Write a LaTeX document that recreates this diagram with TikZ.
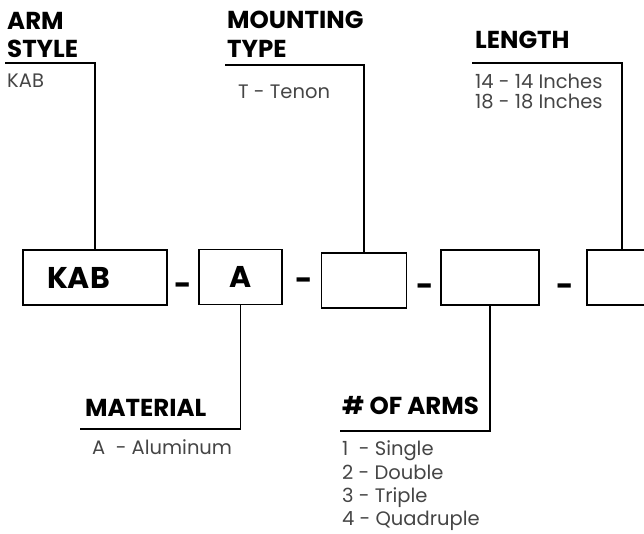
\documentclass[tikz,border=0pt]{standalone}
\usepackage{fontspec}
\setmainfont{Poppins}
\definecolor{txtgray}{HTML}{454545}
\tikzset{
  headtxt/.style={font=\fontsize{24.5}{28}\selectfont\bfseries, anchor=base west, inner sep=0pt},
  graytxt/.style={font=\fontsize{19.5}{20}\selectfont, text=txtgray, anchor=base west, inner sep=0pt},
  pbox/.style={draw, line width=1.5pt, minimum height=55pt, inner sep=0pt, font=\fontsize{30}{30}\selectfont\bfseries},
  sepdash/.style={font=\fontsize{30}{30}\selectfont\bfseries, inner sep=0pt},
  lead/.style={line width=1.5pt}
}

\begin{document}
\begin{tikzpicture}[x=1pt,y=-1pt]
  \useasboundingbox (0,0) rectangle (644,533);
  \clip (0,0) rectangle (644,533);
  % Part number boxes
  \node[pbox, minimum width=144pt, inner xsep=24pt, text width=96pt, align=left] (kab) at (95,277.5) {KAB};
  \node[pbox, minimum width=83pt] (boxa) at (240.5,277) {A};
  \node[pbox, minimum width=85pt] (boxt) at (364,280.5) {};
  \node[pbox, minimum width=98pt] (boxn) at (490,277.5) {};
  \node[pbox, minimum width=70pt] (boxl) at (622,277.5) {};
  % Separators
  \node[sepdash] (d1) at (183.5,289) {-};
  \node[sepdash] (d2) at (304,284) {-};
  \node[sepdash] (d3) at (425,290) {-};
  \node[sepdash] (d4) at (565.5,290) {-};

  % Top labels
  \node[headtxt] (armh1) at (7,29) {ARM};
  \node[headtxt] (armh2) at (7,57) {STYLE};
  \node[graytxt] (armv) at (7,87) {KAB};
  \coordinate (armend) at (5,63);
  \draw[lead] (armend) -| (kab.north);

  \node[headtxt] (mnth1) at (227,28) {MOUNTING};
  \node[headtxt] (mnth2) at (227,57) {TYPE};
  \node[graytxt] (mntv) at (238,98) {T - Tenon};
  \coordinate (mntend) at (225,65);
  \draw[lead] (mntend) -| (boxt.north);

  \node[headtxt] (lenh) at (475,48) {LENGTH};
  \node[graytxt] (lenv1) at (475,88) {14 - 14 Inches};
  \node[graytxt] (lenv2) at (475,108) {18 - 18 Inches};
  \coordinate (lenend) at (472,63);
  \draw[lead] (lenend) -| (boxl.north);

  % Bottom labels
  \node[headtxt] (math) at (85,416) {MATERIAL};
  \node[graytxt] (matv) at (92,454) {A\ \ - Aluminum};
  \coordinate (matend) at (80,429);
  \draw[lead] (boxa.south) |- (matend);

  \node[headtxt] (armsh) at (342,414) {\# OF ARMS};
  \node[graytxt] (armsv1) at (342,455) {1\ \ - Single};
  \node[graytxt] (armsv2) at (342,479) {2 - Double};
  \node[graytxt] (armsv3) at (342,502) {3 - Triple};
  \node[graytxt] (armsv4) at (342,525) {4 - Quadruple};
  \coordinate (armsend) at (340,431);
  \draw[lead] (boxn.south) |- (armsend);
\end{tikzpicture}
\end{document}
